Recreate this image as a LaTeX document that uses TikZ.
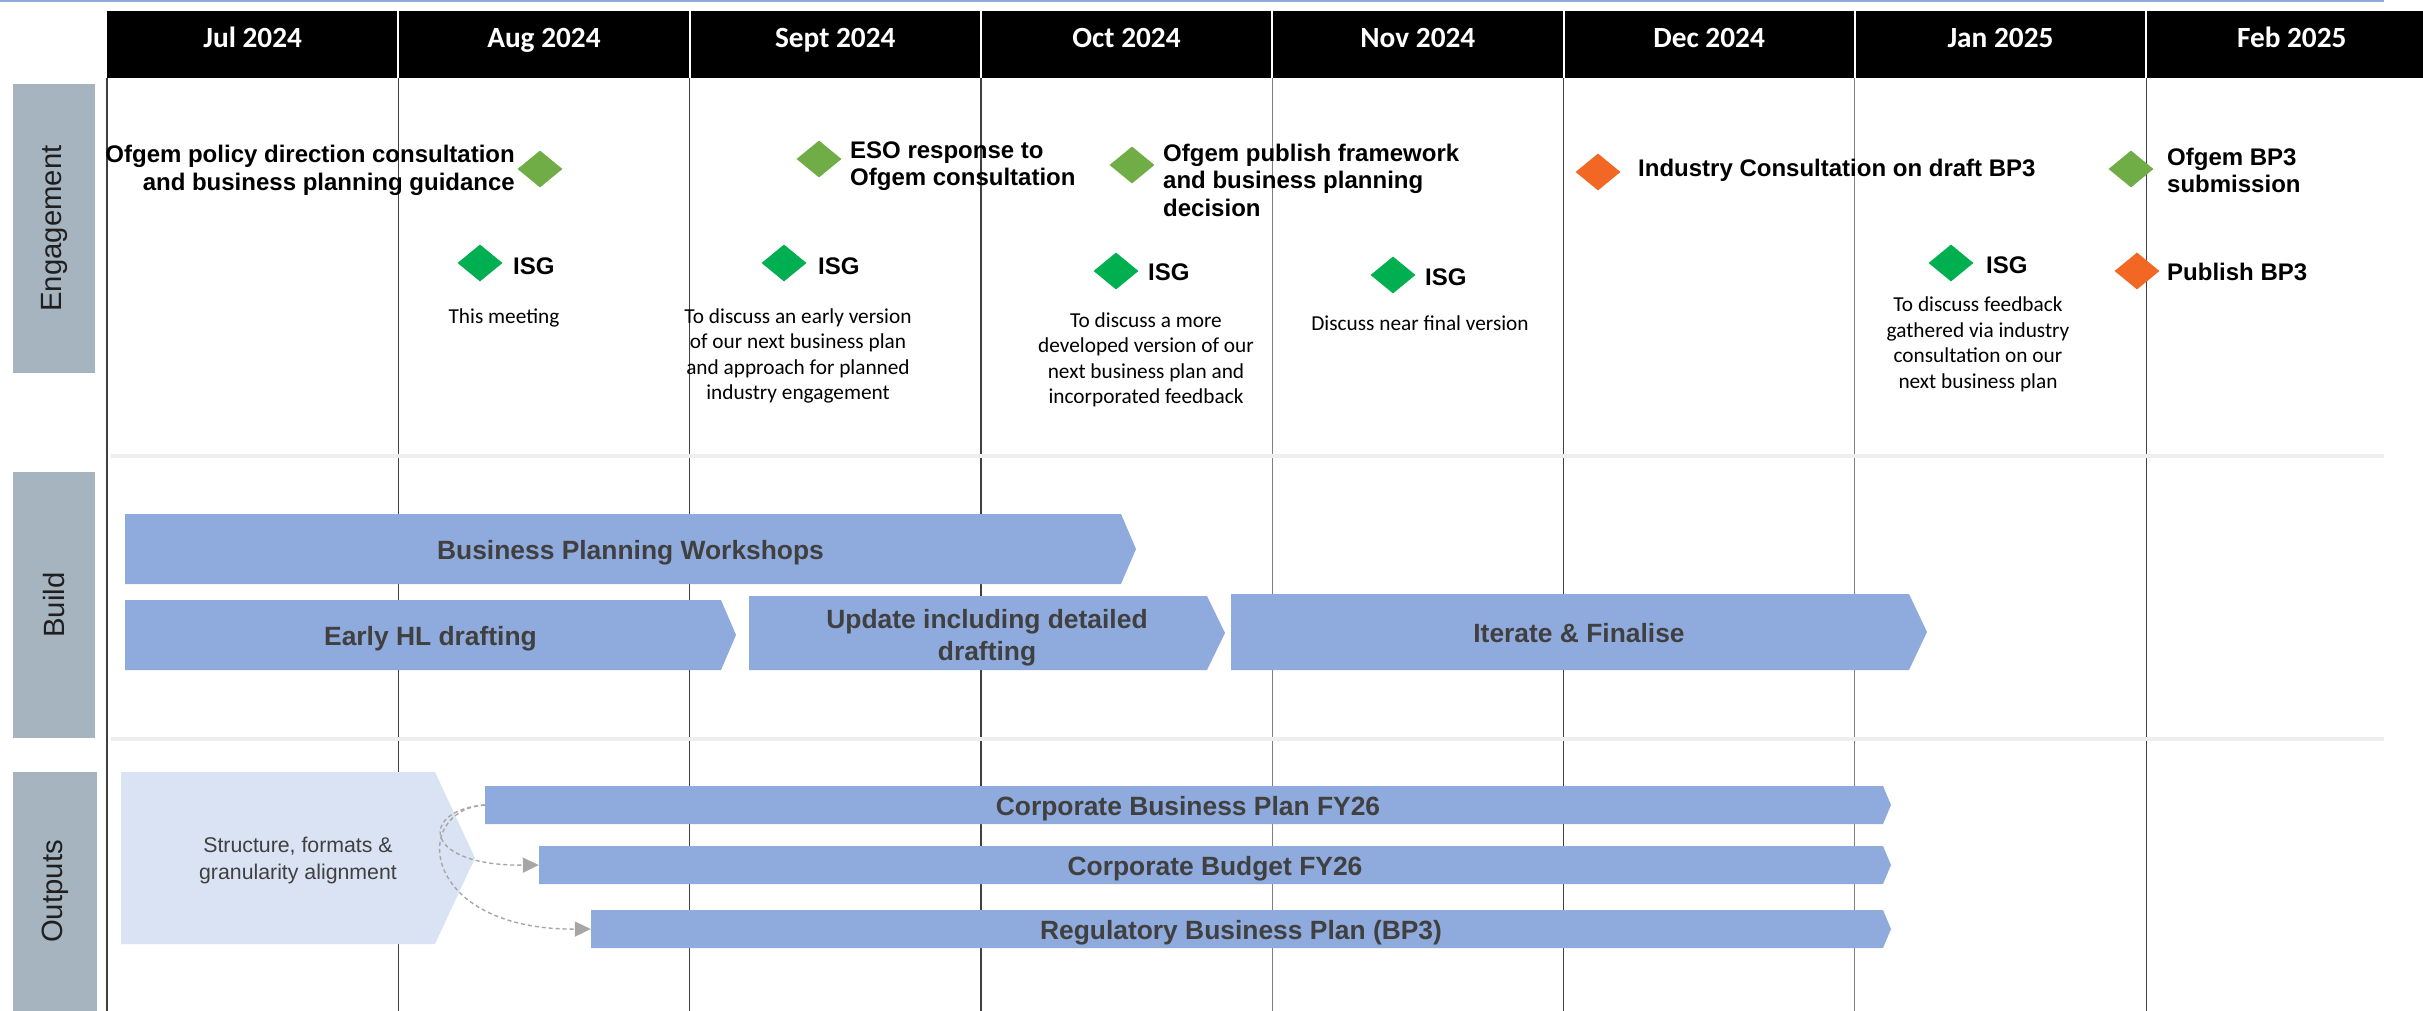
\documentclass[tikz,border=0pt]{standalone}
\usepackage{fontspec}
\setmainfont{Liberation Sans}
\newfontfamily\calibrifont{Carlito}
\usetikzlibrary{shapes.geometric,arrows.meta}
\definecolor{topblue}{HTML}{8FAADC}
\definecolor{barblue}{HTML}{8FAADC}
\definecolor{palebox}{HTML}{DAE3F3}
\definecolor{rowgray}{HTML}{A6B4C0}
\definecolor{lgreen}{HTML}{70AD47}
\definecolor{dgreen}{HTML}{00B050}
\definecolor{orng}{HTML}{F26724}
\definecolor{txtgray}{HTML}{404040}
\definecolor{sepgray}{HTML}{EEEEEE}
\definecolor{griddark}{HTML}{404040}
\definecolor{gridlight}{HTML}{808080}
\definecolor{conngray}{HTML}{A6A6A6}
\begin{document}
\begin{tikzpicture}[x=1pt,y=-1pt,
  hdr/.style={font=\calibrifont\bfseries\fontsize{29.3}{32}\selectfont, text=white, anchor=base, inner sep=0pt},
  lbl/.style={font=\bfseries\fontsize{24}{27.5}\selectfont, inner sep=0pt},
  isgl/.style={font=\bfseries\fontsize{24}{27.5}\selectfont, inner sep=0pt, anchor=west},
  desc/.style={font=\calibrifont\fontsize{21.3}{25.5}\selectfont, align=center, inner sep=0pt},
  dia/.style={diamond, minimum width=45pt, minimum height=37pt, inner sep=0pt},
  gdia/.style={dia, fill=lgreen},
  idia/.style={dia, fill=dgreen},
  odia/.style={dia, fill=orng},
  rowbox/.style={fill=rowgray, rotate=90, inner sep=0pt, text=black!88,
    font=\fontsize{29.3}{32}\selectfont},
  bartext/.style={font=\bfseries\fontsize{26.4}{32}\selectfont, text=txtgray, align=center, inner sep=0pt},
  onebar/.style={bartext, text height=21pt, text depth=0pt},
  conn/.style={draw=conngray, line width=1.4pt, dash pattern=on 4pt off 3pt,
    -{Triangle[length=16pt,width=15pt,fill=conngray]}},
  gridline/.style={line width=1.2pt}
]
\useasboundingbox (0,0) rectangle (2423,1011);

% top rule
\fill[topblue] (0,0) rectangle (2384,2.5);

% grid
\foreach \x/\c in {107/griddark,398.3/griddark,689.6/griddark,980.9/griddark,1272.2/gridlight,1563.5/griddark,1854.8/gridlight,2146.1/griddark}
  \draw[gridline,\c] (\x,78) -- (\x,1011);

% row separators
\fill[sepgray] (111,454) rectangle (2384,458);
\fill[sepgray] (111,737) rectangle (2384,741);

% header
\fill[black] (107,11) rectangle (2423,78);
\foreach \x in {398.3,689.6,980.9,1272.2,1563.5,1854.8,2146.1}
  \draw[white,line width=2pt] (\x,11) -- (\x,78);
\node[hdr] (h1) at (252.65,48) {Jul 2024};
\node[hdr] (h2) at (543.95,48) {Aug 2024};
\node[hdr] (h3) at (835.25,48) {Sept 2024};
\node[hdr] (h4) at (1126.55,48) {Oct 2024};
\node[hdr] (h5) at (1417.85,48) {Nov 2024};
\node[hdr] (h6) at (1709.15,48) {Dec 2024};
\node[hdr] (h7) at (2000.45,48) {Jan 2025};
\node[hdr] (h8) at (2291.75,48) {Feb 2025};

% row labels
\node[rowbox, minimum width=289pt, minimum height=82pt] (rEng) at (54,228.5) {Engagement};
\node[rowbox, minimum width=266pt, minimum height=82pt] (rBuild) at (54,605) {Build};
\node[rowbox, minimum width=239pt, minimum height=84pt] (rOut) at (55,891.5) {Outputs};

% engagement milestones
\node[gdia] (d1) at (540,169) {};
\node[lbl, anchor=east, align=right] (t1) at (515,170.5) {Ofgem policy direction consultation\\and business planning guidance};
\node[gdia] (d2) at (819,159) {};
\node[lbl, anchor=west, align=left] (t2) at (850,166) {ESO response to\\Ofgem consultation};
\node[gdia] (d3) at (1132,165) {};
\node[lbl, anchor=west, align=left] (t3) at (1163,180) {Ofgem publish framework\\and business planning\\decision};
\node[odia] (d4) at (1598,172) {};
\node[lbl, anchor=west] (t4) at (1638,170) {Industry Consultation on draft BP3};
\node[gdia] (d5) at (2131,169) {};
\node[lbl, anchor=west, align=left] (t5) at (2167,170.5) {Ofgem BP3\\submission};
\node[odia] (d6) at (2137,271) {};
\node[lbl, anchor=west] (t6) at (2167,272) {Publish BP3};

% ISG meetings
\node[idia] (i1) at (480,263) {};
\node[isgl] (il1) at (513,266) {ISG};
\node[desc] (id1) at (504,318) {This meeting};
\node[idia] (i2) at (784,263) {};
\node[isgl] (il2) at (818,266) {ISG};
\node[desc] (id2) at (798,356) {To discuss an early version\\of our next business plan\\and approach for planned\\industry engagement};
\node[idia] (i3) at (1116,271) {};
\node[isgl] (il3) at (1148,272) {ISG};
\node[desc] (id3) at (1146,360) {To discuss a more\\developed version of our\\next business plan and\\incorporated feedback};
\node[idia] (i4) at (1393,275) {};
\node[isgl] (il4) at (1425,277) {ISG};
\node[desc] (id4) at (1420,323) {Discuss near final version};
\node[idia] (i5) at (1951,263) {};
\node[isgl] (il5) at (1986,265) {ISG};
\node[desc] (id5) at (1978,344.5) {To discuss feedback\\gathered via industry\\consultation on our\\next business plan};

% build bars
\fill[barblue] (125,514) -- (1121,514) -- (1136,549) -- (1121,584) -- (125,584) -- cycle;
\node[onebar, minimum width=1011pt, minimum height=70pt] (bpw) at (630.5,549) {Business Planning Workshops};
\fill[barblue] (125,600) -- (721,600) -- (736,635) -- (721,670) -- (125,670) -- cycle;
\node[onebar, minimum width=611pt, minimum height=70pt] (ehl) at (430.5,635) {Early HL drafting};
\fill[barblue] (749,596) -- (1207,596) -- (1225,633) -- (1207,670) -- (749,670) -- cycle;
\node[bartext, minimum width=476pt, minimum height=74pt, yshift=-5pt] (upd) at (987,633) {Update including detailed\\drafting};
\fill[barblue] (1231,594) -- (1909,594) -- (1927,632) -- (1909,670) -- (1231,670) -- cycle;
\node[onebar, minimum width=696pt, minimum height=76pt] (itf) at (1579,632) {Iterate \& Finalise};

% outputs
\fill[palebox] (121,772) -- (435,772) -- (475,858) -- (435,944) -- (121,944) -- cycle;
\node[font=\fontsize{21.3}{27}\selectfont, text=txtgray, align=center, inner sep=0pt,
  minimum width=354pt, minimum height=172pt] (sfg) at (298,860) {Structure, formats \&\\granularity alignment};
\fill[barblue] (485,786) -- (1883,786) -- (1891,805) -- (1883,824) -- (485,824) -- cycle;
\node[onebar, minimum width=1406pt, minimum height=38pt] (cbp) at (1188,805) {Corporate Business Plan FY26};
\fill[barblue] (539,846) -- (1883,846) -- (1891,865) -- (1883,884) -- (539,884) -- cycle;
\node[onebar, minimum width=1352pt, minimum height=38pt] (cbud) at (1215,865) {Corporate Budget FY26};
\fill[barblue] (591,910) -- (1883,910) -- (1891,929) -- (1883,948) -- (591,948) -- cycle;
\node[onebar, minimum width=1300pt, minimum height=38pt] (rbp) at (1241,929) {Regulatory Business Plan (BP3)};

% connectors
\draw[conn] (cbp.west) .. controls (420,810) and (420,866) .. (cbud.west);
\draw[conn] (cbp.west) .. controls (410,810) and (420,930) .. (rbp.west);
\end{tikzpicture}
\end{document}
